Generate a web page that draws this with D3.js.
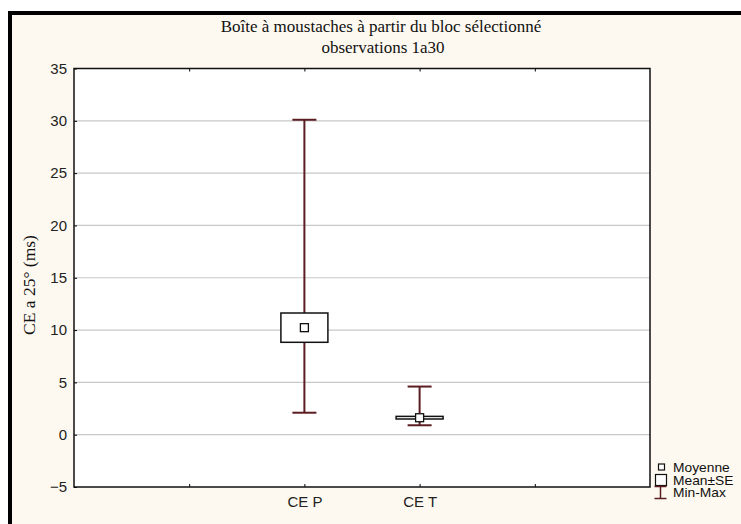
<!DOCTYPE html>
<html><head><meta charset="utf-8">
<script src="https://cdn.jsdelivr.net/npm/d3@7"></script>
<style>body{margin:0;background:#fff}svg{display:block}</style>
</head><body>
<svg id="c" width="741" height="524"></svg>
<script>
const categories = ["CE P", "CE T"];
const means = [10.23, 1.62];
const seLow = [8.83, 1.50];
const seHigh = [11.63, 1.75];
const mins = [2.1, 0.9];
const maxs = [30.1, 4.6];
const yTicks = [-5, 0, 5, 10, 15, 20, 25, 30, 35];
const catPos = [2, 3];
const xTicks = [1, 2, 3, 4];
const legendLabels = ["Moyenne", "Mean±SE", "Min-Max"];

const svg = d3.select("#c");
const W = 741, H = 524;
const L = 74, R = 650, T = 68.5, B = 487;

svg.append("rect").attr("x", 10).attr("y", 13).attr("width", W).attr("height", H).attr("fill", "#fdf9f0");
svg.append("line").attr("x1", 10).attr("x2", 10).attr("y1", 11).attr("y2", H).attr("stroke", "#000").attr("stroke-width", 4);
svg.append("line").attr("x1", 8).attr("x2", W).attr("y1", 13).attr("y2", 13).attr("stroke", "#000").attr("stroke-width", 4);

const x = d3.scaleLinear().domain([0, 5]).range([L, R]);
const y = d3.scaleLinear().domain([-5, 35]).range([B, T]);

svg.append("rect").attr("x", L).attr("y", T).attr("width", R - L).attr("height", B - T).attr("fill", "#fff");

// gridlines
svg.append("g").selectAll("line").data(yTicks.filter(d => d > -5 && d < 35)).join("line")
  .attr("x1", L).attr("x2", R).attr("y1", d => y(d)).attr("y2", d => y(d))
  .attr("stroke", "#c8c8c8").attr("stroke-width", 1.2);

const sf = "Liberation Sans, Arial, sans-serif";
// axes
const yAxis = d3.axisLeft(y).tickValues(yTicks).tickSize(-3).tickPadding(7);
const gy = svg.append("g").attr("transform", `translate(${L},0)`).call(yAxis);
gy.selectAll("text").attr("font-family", sf).attr("font-size", 15).attr("fill", "#222");
gy.select(".domain").remove();

const xAxis = d3.axisBottom(x).tickValues(xTicks).tickSize(-3).tickPadding(9)
  .tickFormat(d => { const i = catPos.indexOf(d); return i >= 0 ? categories[i] : ""; });
const gx = svg.append("g").attr("transform", `translate(0,${B})`).call(xAxis);
gx.selectAll("text").attr("font-family", sf).attr("font-size", 15).attr("fill", "#222");
gx.select(".domain").remove();

const xTop = d3.axisTop(x).tickValues(xTicks).tickSize(-3).tickFormat("");
const gt = svg.append("g").attr("transform", `translate(0,${T})`).call(xTop);
gt.select(".domain").remove();

svg.append("rect").attr("x", L).attr("y", T).attr("width", R - L).attr("height", B - T)
  .attr("fill", "none").attr("stroke", "#111").attr("stroke-width", 1.5);

// boxes
const whisk = "#5b1c22";
const g = svg.append("g");
categories.forEach((c, i) => {
  const cx = x(catPos[i]);
  g.append("line").attr("x1", cx).attr("x2", cx).attr("y1", y(mins[i])).attr("y2", y(maxs[i]))
    .attr("stroke", whisk).attr("stroke-width", 2);
  [mins[i], maxs[i]].forEach(v => {
    g.append("line").attr("x1", cx - 12).attr("x2", cx + 12).attr("y1", y(v)).attr("y2", y(v))
      .attr("stroke", whisk).attr("stroke-width", 2);
  });
  g.append("rect").attr("x", cx - 23.5).attr("width", 47)
    .attr("y", y(seHigh[i])).attr("height", y(seLow[i]) - y(seHigh[i]))
    .attr("fill", "#fff").attr("stroke", "#111").attr("stroke-width", 1.5);
  g.append("rect").attr("x", cx - 4).attr("width", 8).attr("y", y(means[i]) - 4).attr("height", 8)
    .attr("fill", "#fff").attr("stroke", "#111").attr("stroke-width", 1.3);
});

// titles
const tfont = "Liberation Serif, Times New Roman, serif";
svg.append("text").attr("x", 381).attr("y", 32).attr("text-anchor", "middle")
  .attr("font-family", tfont).attr("font-size", 17).attr("fill", "#111")
  .text("Boîte à moustaches à partir du bloc sélectionné");
svg.append("text").attr("x", 383).attr("y", 53).attr("text-anchor", "middle")
  .attr("font-family", tfont).attr("font-size", 17).attr("fill", "#111")
  .text("observations 1a30");
svg.append("text").attr("transform", `translate(35,285) rotate(-90)`)
  .attr("text-anchor", "middle").attr("font-family", tfont).attr("font-size", 17.5).attr("fill", "#111")
  .text("CE a 25° (ms)");

// legend
const lg = svg.append("g");
const rowY = [467.5, 480, 492.5];
lg.append("rect").attr("x", 658.5).attr("y", rowY[0] - 3.5).attr("width", 6).attr("height", 6).attr("fill", "#fff").attr("stroke", "#111").attr("stroke-width", 1.2);
lg.append("rect").attr("x", 655.5).attr("y", rowY[1] - 5.5).attr("width", 11).attr("height", 11).attr("fill", "#fff").attr("stroke", "#111").attr("stroke-width", 1.2);
lg.append("line").attr("x1", 660.5).attr("x2", 660.5).attr("y1", rowY[2] - 6).attr("y2", rowY[2] + 6).attr("stroke", whisk).attr("stroke-width", 1.5);
lg.append("line").attr("x1", 654.5).attr("x2", 666.5).attr("y1", rowY[2] - 6).attr("y2", rowY[2] - 6).attr("stroke", whisk).attr("stroke-width", 1.5);
lg.append("line").attr("x1", 654.5).attr("x2", 666.5).attr("y1", rowY[2] + 6).attr("y2", rowY[2] + 6).attr("stroke", whisk).attr("stroke-width", 1.5);
lg.selectAll("text.lt").data(legendLabels).join("text").attr("class", "lt")
  .attr("transform", (d, i) => `translate(673,${rowY[i] + 4.5}) scale(1.15,1)`)
  .attr("font-family", sf).attr("font-size", 12).attr("fill", "#111").text(d => d);
</script>
</body></html>
